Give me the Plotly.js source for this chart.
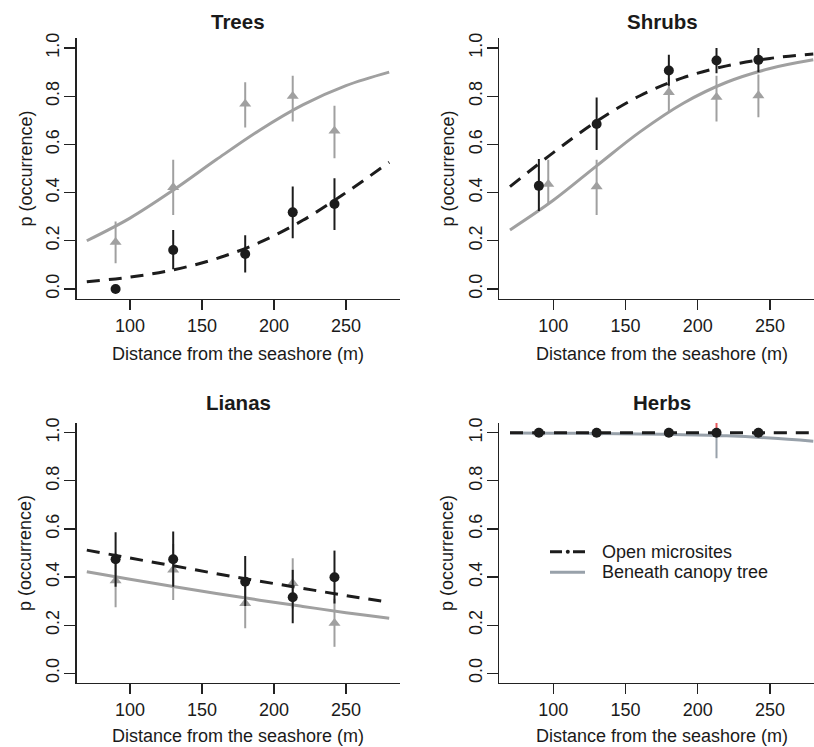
<!DOCTYPE html>
<html><head><meta charset="utf-8">
<script src="https://cdn.plot.ly/plotly-3.0.1.min.js"></script>
<style>html,body{margin:0;padding:0;background:#fff;overflow:hidden}#chart{width:814px;height:747px}</style>
</head><body><div id="chart"></div>
<script>
// ---------- data ----------
const panelTitles = ['Trees', 'Shrubs', 'Lianas', 'Herbs'];
const seriesNames = ['Open microsites', 'Beneath canopy tree'];
const xTitle = 'Distance from the seashore (m)';
const yTitle = 'p (occurrence)';
const xTickVals = [100, 150, 200, 250];
const yTickVals = [0, 0.2, 0.4, 0.6, 0.8, 1.0];
const curveX = [70, 100, 130, 160, 190, 220, 250, 280];

// Trees
const treesOpenX = [90, 130, 180, 213, 242];
const treesOpenP = [0.0, 0.162, 0.145, 0.318, 0.353];
const treesOpenHi = [0.0, 0.245, 0.223, 0.425, 0.46];
const treesOpenLo = [0.0, 0.082, 0.068, 0.21, 0.245];
const treesCanX = [90, 130, 180, 213, 242];
const treesCanP = [0.194, 0.422, 0.768, 0.80, 0.656];
const treesCanHi = [0.28, 0.536, 0.858, 0.885, 0.76];
const treesCanLo = [0.107, 0.307, 0.67, 0.695, 0.543];
const treesOpenCurve = [0.030, 0.049, 0.079, 0.126, 0.193, 0.285, 0.40, 0.526];
const treesCanCurve = [0.20, 0.294, 0.410, 0.537, 0.659, 0.764, 0.844, 0.90];

// Shrubs
const shrubsOpenX = [90, 130, 180, 213, 242];
const shrubsOpenP = [0.428, 0.685, 0.907, 0.948, 0.951];
const shrubsOpenHi = [0.539, 0.795, 0.972, 1.0, 1.0];
const shrubsOpenLo = [0.324, 0.577, 0.843, 0.895, 0.90];
const shrubsCanX = [96.5, 130, 180, 213, 242];
const shrubsCanP = [0.435, 0.425, 0.816, 0.796, 0.803];
const shrubsCanHi = [0.536, 0.536, 0.875, 0.885, 0.89];
const shrubsCanLo = [0.356, 0.307, 0.737, 0.695, 0.713];
const shrubsOpenCurve = [0.425, 0.566, 0.696, 0.802, 0.877, 0.926, 0.957, 0.975];
const shrubsCanCurve = [0.245, 0.368, 0.511, 0.652, 0.771, 0.858, 0.915, 0.951];

// Lianas
const lianasOpenX = [90, 130, 180, 213, 242];
const lianasOpenP = [0.474, 0.474, 0.381, 0.316, 0.399];
const lianasOpenHi = [0.586, 0.589, 0.488, 0.43, 0.51];
const lianasOpenLo = [0.36, 0.36, 0.28, 0.208, 0.29];
const lianasCanX = [90, 130, 180, 213, 242];
const lianasCanP = [0.385, 0.43, 0.291, 0.374, 0.208];
const lianasCanHi = [0.50, 0.537, 0.40, 0.478, 0.31];
const lianasCanLo = [0.274, 0.305, 0.187, 0.27, 0.11];
const lianasOpenCurve = [0.512, 0.479, 0.447, 0.414, 0.383, 0.353, 0.323, 0.295];
const lianasCanCurve = [0.422, 0.391, 0.361, 0.332, 0.304, 0.278, 0.252, 0.229];

// Herbs
const herbsOpenX = [90, 130, 180, 213, 242];
const herbsOpenP = [1.0, 1.0, 1.0, 1.0, 1.0];
const herbsOpenHi = [1.0, 1.0, 1.0, 1.053, 1.0];
const herbsOpenLo = [1.0, 1.0, 1.0, 1.0, 1.0];
const herbsCanX = [90, 130, 180, 213, 242];
const herbsCanP = [1.0, 1.0, 1.0, 1.0, 1.0];
const herbsCanHi = [1.0, 1.0, 1.0, 1.0, 1.0];
const herbsCanLo = [1.0, 1.0, 1.0, 0.894, 1.0];
const herbsOpenCurve = [1.0, 1.0, 1.0, 1.0, 1.0, 1.0, 1.0, 1.0];
const herbsCanCurve = [0.999, 0.998, 0.997, 0.995, 0.992, 0.987, 0.978, 0.965];

// ---------- styling / layout ----------
const W = 814, H = 747;
const FONT = 'Liberation Sans, Arial, Helvetica, sans-serif';
const BLACK = '#1c1c1c';
const GREY = '#a0a0a0';
const GREY_H = '#98a1aa';
const RED = '#e8585c';
const px = v => v / W;
const py = v => 1 - v / H;

const panels = [
  {name: panelTitles[0], xa: 'x', ya: 'y', oX: treesOpenX, oP: treesOpenP, oHi: treesOpenHi, oLo: treesOpenLo,
   cX: treesCanX, cP: treesCanP, cHi: treesCanHi, cLo: treesCanLo, oC: treesOpenCurve, cC: treesCanCurve,
   grey: GREY, openErr: BLACK},
  {name: panelTitles[1], xa: 'x2', ya: 'y2', oX: shrubsOpenX, oP: shrubsOpenP, oHi: shrubsOpenHi, oLo: shrubsOpenLo,
   cX: shrubsCanX, cP: shrubsCanP, cHi: shrubsCanHi, cLo: shrubsCanLo, oC: shrubsOpenCurve, cC: shrubsCanCurve,
   grey: GREY, openErr: BLACK},
  {name: panelTitles[2], xa: 'x3', ya: 'y3', oX: lianasOpenX, oP: lianasOpenP, oHi: lianasOpenHi, oLo: lianasOpenLo,
   cX: lianasCanX, cP: lianasCanP, cHi: lianasCanHi, cLo: lianasCanLo, oC: lianasOpenCurve, cC: lianasCanCurve,
   grey: GREY, openErr: BLACK},
  {name: panelTitles[3], xa: 'x4', ya: 'y4', oX: herbsOpenX, oP: herbsOpenP, oHi: herbsOpenHi, oLo: herbsOpenLo,
   cX: herbsCanX, cP: herbsCanP, cHi: herbsCanHi, cLo: herbsCanLo, oC: herbsOpenCurve, cC: herbsCanCurve,
   grey: GREY_H, openErr: RED}
];

const diff = (a, b) => a.map((v, i) => v - b[i]);
const traces = [];
panels.forEach(p => {
  // canopy points (grey triangles)
  traces.push({type: 'scatter', mode: 'markers', x: p.cX, y: p.cP, xaxis: p.xa, yaxis: p.ya,
    name: seriesNames[1], showlegend: false, hoverinfo: 'skip',
    marker: {symbol: 'triangle-up', size: 10.5, color: p.grey},
    error_y: {type: 'data', symmetric: false, array: diff(p.cHi, p.cP), arrayminus: diff(p.cP, p.cLo),
      color: p.grey, thickness: 2, width: 0}});
  // canopy curve
  traces.push({type: 'scatter', mode: 'lines', x: curveX, y: p.cC, xaxis: p.xa, yaxis: p.ya,
    name: seriesNames[1], showlegend: false, hoverinfo: 'skip',
    line: {color: p.grey, width: 3, shape: 'spline', smoothing: 1}});
  // open points (black circles)
  traces.push({type: 'scatter', mode: 'markers', x: p.oX, y: p.oP, xaxis: p.xa, yaxis: p.ya,
    name: seriesNames[0], showlegend: false, hoverinfo: 'skip',
    marker: {symbol: 'circle', size: 10, color: BLACK},
    error_y: {type: 'data', symmetric: false, array: diff(p.oHi, p.oP), arrayminus: diff(p.oP, p.oLo),
      color: p.openErr, thickness: 2, width: 0}});
  // open curve
  traces.push({type: 'scatter', mode: 'lines', x: curveX, y: p.oC, xaxis: p.xa, yaxis: p.ya,
    name: seriesNames[0], showlegend: false, hoverinfo: 'skip',
    line: {color: BLACK, width: 3, dash: '13px,9px', shape: 'spline', smoothing: 1}});
});

const leftDom = [px(76.5), px(400)];
const rightDom = [px(499.3), 1];
const topDom = [py(298.6), py(38.4)];
const botDom = [py(682.9), py(423.1)];
const leftRange = [62.85, 287.5];
const rightRange = [62.6, 280.5];

function xAxis(dom, range, anchor) {
  return {domain: dom, range: range, anchor: anchor, showgrid: false, zeroline: false,
    showline: true, linecolor: '#222', linewidth: 1.3, ticks: 'outside', ticklen: 10, tickwidth: 1.3,
    tickcolor: '#222', tickvals: xTickVals, ticktext: xTickVals.map(String),
    tickfont: {family: FONT, size: 18, color: '#1a1a1a'}, fixedrange: true};
}
function yAxis(dom, anchor) {
  return {domain: dom, range: [-0.04, 1.04], anchor: anchor, showgrid: false, zeroline: false,
    showline: true, linecolor: '#222', linewidth: 1.3, ticks: 'outside', ticklen: 11, tickwidth: 1.3,
    tickcolor: '#222', tickvals: yTickVals, ticktext: yTickVals.map(v => v.toFixed(1)), tickangle: -90,
    ticklabelstandoff: -2,
    tickfont: {family: FONT, size: 18, color: '#1a1a1a'}, fixedrange: true};
}

const centersX = [238.25, 662, 238.25, 662];
const titleY = [21, 21, 402, 402];
const xTitleY = [354, 354, 736, 736];
const yTitleX = [25, 447, 25, 447];
const yTitleY = [168.5, 168.5, 553, 553];

const annotations = [];
panelTitles.forEach((t, i) => {
  annotations.push({text: '<b>' + t + '</b>', xref: 'paper', yref: 'paper', x: px(centersX[i]), y: py(titleY[i]),
    xanchor: 'center', yanchor: 'middle', showarrow: false, font: {family: FONT, size: 20.5, color: '#1a1a1a'}});
  annotations.push({text: xTitle, xref: 'paper', yref: 'paper', x: px(centersX[i]), y: py(xTitleY[i]),
    xanchor: 'center', yanchor: 'middle', showarrow: false, font: {family: FONT, size: 18, color: '#1a1a1a'}});
  annotations.push({text: yTitle, xref: 'paper', yref: 'paper', x: px(yTitleX[i]), y: py(yTitleY[i]),
    xanchor: 'center', yanchor: 'middle', textangle: -90, showarrow: false, font: {family: FONT, size: 18, color: '#1a1a1a'}});
});
// legend (Herbs panel)
const legY = [551.7, 572.3];
seriesNames.forEach((s, i) => {
  annotations.push({text: s, xref: 'paper', yref: 'paper', x: px(600), y: py(legY[i]),
    xanchor: 'left', yanchor: 'middle', showarrow: false, font: {family: FONT, size: 18, color: '#1a1a1a'}});
});
const shapes = [
  {type: 'line', xref: 'paper', yref: 'paper', x0: px(550), x1: px(585), y0: py(legY[0]), y1: py(legY[0]),
   line: {color: BLACK, width: 3, dash: '12px,11px'}},
  {type: 'circle', xref: 'paper', yref: 'paper', x0: px(565.8), x1: px(569.8), y0: py(legY[0] + 2), y1: py(legY[0] - 2),
   fillcolor: BLACK, line: {width: 0}},
  {type: 'line', xref: 'paper', yref: 'paper', x0: px(550), x1: px(585), y0: py(legY[1]), y1: py(legY[1]),
   line: {color: GREY_H, width: 3}}
];

const layout = {
  width: W, height: H, margin: {l: 0, r: 0, t: 0, b: 0},
  paper_bgcolor: '#fff', plot_bgcolor: '#fff', showlegend: false,
  font: {family: FONT, color: '#1a1a1a'},
  xaxis: xAxis(leftDom, leftRange, 'y'), yaxis: yAxis(topDom, 'x'),
  xaxis2: xAxis(rightDom, rightRange, 'y2'), yaxis2: yAxis(topDom, 'x2'),
  xaxis3: xAxis(leftDom, leftRange, 'y3'), yaxis3: yAxis(botDom, 'x3'),
  xaxis4: xAxis(rightDom, rightRange, 'y4'), yaxis4: yAxis(botDom, 'x4'),
  annotations: annotations, shapes: shapes
};
Plotly.newPlot('chart', traces, layout, {displayModeBar: false, staticPlot: true});
</script></body></html>
